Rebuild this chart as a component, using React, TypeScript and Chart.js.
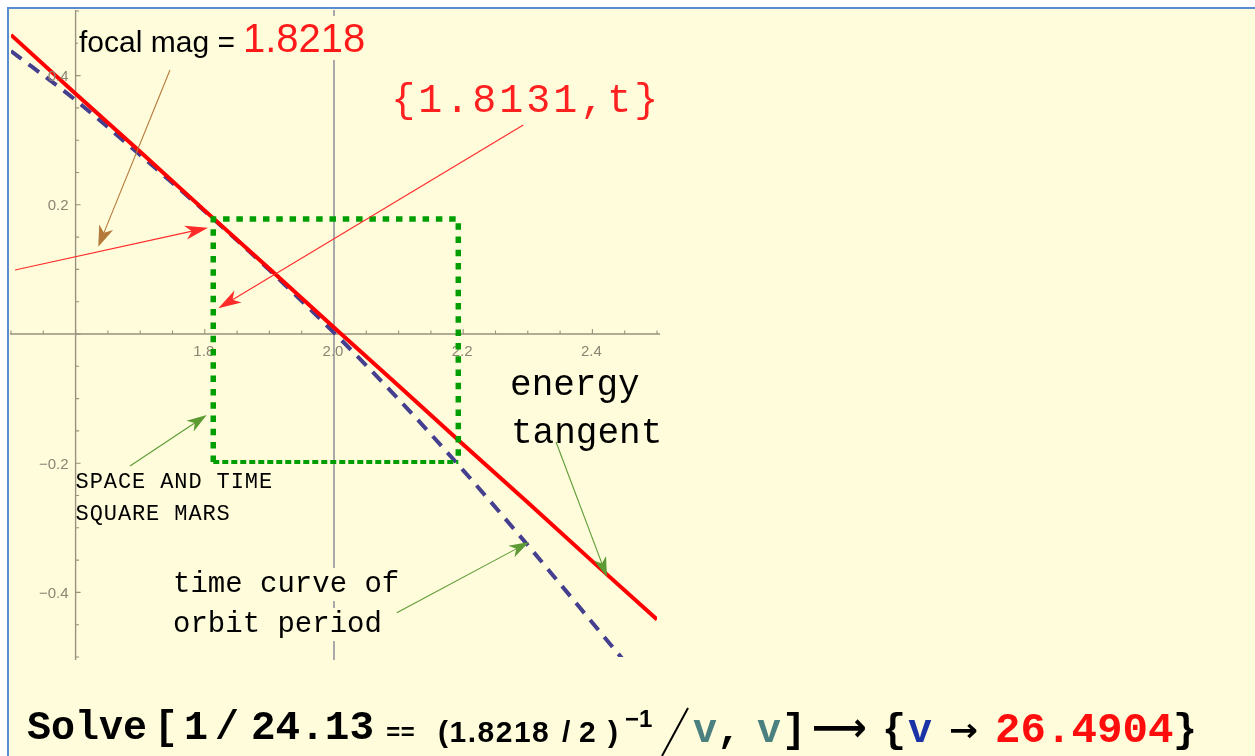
import React, { useEffect, useRef } from 'react';
import { Chart, registerables } from 'chart.js';

Chart.register(...registerables);

// ---- data ----
const X_RANGE = [1.5, 2.5];
const Y_RANGE = [-0.5, 0.5];

// energy tangent (red, solid)
const ENERGY_X = [1.5, 1.6, 1.7, 1.8, 1.9, 2.0, 2.1, 2.2, 2.3, 2.4, 2.5];
const ENERGY_Y = [0.463, 0.372, 0.282, 0.191, 0.101, 0.01, -0.08, -0.171, -0.261, -0.352, -0.442];

// time curve of orbit period (dashed)
const TIME_X = [1.5, 1.6, 1.7, 1.8, 1.9, 2.0, 2.1, 2.2, 2.3, 2.4, 2.45];
const TIME_Y = [0.438, 0.362, 0.277, 0.19, 0.099, 0.002, -0.101, -0.211, -0.327, -0.447, -0.507];

// space and time square (green dotted)
const SQUARE_X = [1.8131, 2.1924];
const SQUARE_Y = [0.178, -0.198];

// axes
const AXIS_ORIGIN_X = 1.6;
const AXIS_ORIGIN_Y = 0;
const GRID_X = 2.0;
const X_TICK_VALUES = [1.8, 2.0, 2.2, 2.4];
const X_TICK_LABELS = ['1.8', '2.0', '2.2', '2.4'];
const Y_TICK_VALUES = [0.4, 0.2, -0.2, -0.4];
const Y_TICK_LABELS = ['0.4', '0.2', '\u22120.2', '\u22120.4'];
const MINOR_STEP = 0.05;

// ---- annotations (in data coordinates) ----
const MONO = '"Liberation Mono", "DejaVu Sans Mono", monospace';
const SANS = '"Liberation Sans", Arial, sans-serif';

const TEXT_NOTES = [
  { text: 'focal mag =', x: 1.6053, y: 0.4365, size: 30, family: SANS, color: '#000000', spacing: 0, bg: true },
  { text: '1.8218', x: 1.859, y: 0.4365, size: 40, family: SANS, color: '#ff1a1a', spacing: 0, bg: true },
  { text: '{1.8131,t}', x: 2.0885, y: 0.3437, size: 40, family: MONO, color: '#ff2020', spacing: 3, bg: false },
  { text: 'energy', x: 2.2725, y: -0.0944, size: 36, family: MONO, color: '#000000', spacing: 0, bg: false },
  { text: 'tangent', x: 2.274, y: -0.1687, size: 36, family: MONO, color: '#000000', spacing: 0, bg: false },
  { text: 'SPACE AND TIME', x: 1.6, y: -0.2384, size: 22, family: MONO, color: '#000000', spacing: 0.9, bg: false },
  { text: 'SQUARE MARS', x: 1.6, y: -0.288, size: 22, family: MONO, color: '#000000', spacing: 0.9, bg: false },
  { text: 'time curve of', x: 1.7508, y: -0.3994, size: 29, family: MONO, color: '#000000', spacing: 0, bg: true },
  { text: 'orbit period', x: 1.7508, y: -0.4613, size: 29, family: MONO, color: '#000000', spacing: 0, bg: true },
];

const ARROWS = [
  { from: [1.7461, 0.4087], to: [1.6351, 0.1351], color: '#b57a3a', len: 21, half: 7.5 },
  { from: [1.5062, 0.099], to: [1.805, 0.1646], color: '#ff2a2a', len: 23, half: 7 },
  { from: [2.293, 0.3235], to: [1.8209, 0.0398], color: '#ff2a2a', len: 23, half: 7 },
  { from: [1.6842, -0.2043], to: [1.803, -0.1254], color: '#5c9a34', len: 20, half: 6.5 },
  { from: [2.3437, -0.1672], to: [2.4226, -0.3762], color: '#5c9a34', len: 20, half: 6.5 },
  { from: [2.0972, -0.4314], to: [2.3019, -0.322], color: '#5c9a34', len: 20, half: 6.5 },
];

const W = 1255;
const H = 756;
// index of the last plotted curve; tick labels are drawn after it (under the square)
const LABELS_AFTER_DATASET = 2;

function drawArrow(ctx: CanvasRenderingContext2D, x1: number, y1: number, x2: number, y2: number, color: string, len: number, half: number) {
  const a = Math.atan2(y2 - y1, x2 - x1);
  const c = Math.cos(a);
  const s = Math.sin(a);
  ctx.strokeStyle = color;
  ctx.fillStyle = color;
  ctx.lineWidth = 1.1;
  ctx.beginPath();
  ctx.moveTo(x1, y1);
  ctx.lineTo(x2 - len * 0.7 * c, y2 - len * 0.7 * s);
  ctx.stroke();
  ctx.beginPath();
  ctx.moveTo(x2, y2);
  ctx.lineTo(x2 - len * c + half * s, y2 - len * s - half * c);
  ctx.lineTo(x2 - len * 0.72 * c, y2 - len * 0.72 * s);
  ctx.lineTo(x2 - len * c - half * s, y2 - len * s + half * c);
  ctx.closePath();
  ctx.fill();
}

const mathPlugin = {
  id: 'mathAxes',
  beforeDatasetsDraw(chart: any) {
    const { ctx, chartArea: ca } = chart;
    const xs = chart.scales.x;
    const ys = chart.scales.y;
    const px = (v: number) => xs.getPixelForValue(v);
    const py = (v: number) => ys.getPixelForValue(v);
    ctx.save();
    // vertical grid line
    ctx.strokeStyle = '#a9a9a9';
    ctx.lineWidth = 2;
    ctx.beginPath();
    ctx.moveTo(px(GRID_X), ca.top - 1);
    ctx.lineTo(px(GRID_X), ca.bottom + 3);
    ctx.stroke();
    // axes
    const ox = px(AXIS_ORIGIN_X);
    const oy = py(AXIS_ORIGIN_Y);
    ctx.strokeStyle = '#9a917f';
    ctx.lineWidth = 1.4;
    ctx.beginPath();
    ctx.moveTo(ca.left - 1, oy);
    ctx.lineTo(ca.right + 3, oy);
    ctx.moveTo(ox, ca.top - 1);
    ctx.lineTo(ox, ca.bottom + 3);
    ctx.stroke();
    // ticks
    ctx.lineWidth = 1.1;
    ctx.beginPath();
    const nx = Math.round((X_RANGE[1] - X_RANGE[0]) / MINOR_STEP);
    for (let i = 0; i <= nx; i++) {
      const v = X_RANGE[0] + i * MINOR_STEP;
      const major = Math.abs(Math.round(v * 5) - v * 5) < 1e-6;
      const p = px(v);
      ctx.moveTo(p, oy);
      ctx.lineTo(p, oy - (major ? 5 : 3.5));
    }
    const ny = Math.round((Y_RANGE[1] - Y_RANGE[0]) / MINOR_STEP);
    for (let i = 0; i <= ny; i++) {
      const v = Y_RANGE[0] + i * MINOR_STEP;
      const major = Math.abs(Math.round(v * 5) - v * 5) < 1e-6;
      const p = py(v);
      ctx.moveTo(ox, p);
      ctx.lineTo(ox + (major ? 5 : 3.5), p);
    }
    ctx.stroke();

    // text notes: backgrounds first, then the text
    ctx.textAlign = 'left';
    ctx.textBaseline = 'alphabetic';
    for (const n of TEXT_NOTES) {
      if (!n.bg) continue;
      ctx.font = `${n.size}px ${n.family}`;
      (ctx as any).letterSpacing = `${n.spacing}px`;
      const m = ctx.measureText(n.text);
      const tx = px(n.x);
      const ty = py(n.y);
      ctx.fillStyle = '#fffcdb';
      ctx.fillRect(tx - 1, ty - m.fontBoundingBoxAscent, m.width + 4, m.fontBoundingBoxAscent + m.fontBoundingBoxDescent);
    }
    for (const n of TEXT_NOTES) {
      ctx.font = `${n.size}px ${n.family}`;
      (ctx as any).letterSpacing = `${n.spacing}px`;
      ctx.fillStyle = n.color;
      ctx.fillText(n.text, px(n.x), py(n.y));
    }
    (ctx as any).letterSpacing = '0px';
    ctx.restore();
  },
  afterDatasetDraw(chart: any, args: any) {
    if (args.index !== LABELS_AFTER_DATASET) return;
    const { ctx } = chart;
    const xs = chart.scales.x;
    const ys = chart.scales.y;
    const ox = xs.getPixelForValue(AXIS_ORIGIN_X);
    const oy = ys.getPixelForValue(AXIS_ORIGIN_Y);
    ctx.save();
    ctx.fillStyle = '#8c8474';
    ctx.font = '15px ' + SANS;
    ctx.textBaseline = 'alphabetic';
    ctx.textAlign = 'center';
    X_TICK_VALUES.forEach((v, i) => ctx.fillText(X_TICK_LABELS[i], xs.getPixelForValue(v) - 1, oy + 22));
    ctx.textAlign = 'right';
    Y_TICK_VALUES.forEach((v, i) => ctx.fillText(Y_TICK_LABELS[i], ox - 7, ys.getPixelForValue(v) + 5.5));
    ctx.restore();
  },
  afterDatasetsDraw(chart: any) {
    const { ctx } = chart;
    const xs = chart.scales.x;
    const ys = chart.scales.y;
    ctx.save();
    for (const a of ARROWS) {
      drawArrow(ctx, xs.getPixelForValue(a.from[0]), ys.getPixelForValue(a.from[1]),
        xs.getPixelForValue(a.to[0]), ys.getPixelForValue(a.to[1]), a.color, a.len, a.half);
    }
    ctx.restore();
  },
};

type Piece = { t: string; x: number; y: number; size: number; fam: string; color: string; ls?: number; len?: number };

const FORMULA: Piece[] = [
  { t: 'Solve', x: 27, y: 739, size: 40, fam: MONO, color: '#000' },
  { t: '[', x: 154, y: 739, size: 40, fam: MONO, color: '#000' },
  { t: '1', x: 184, y: 739, size: 40, fam: MONO, color: '#000' },
  { t: '/', x: 215, y: 739, size: 40, fam: MONO, color: '#000' },
  { t: '24.13', x: 251, y: 739, size: 41, fam: MONO, color: '#000' },
  { t: '==', x: 386, y: 740, size: 24, fam: MONO, color: '#000' },
  { t: '(1.8218', x: 438, y: 742, size: 30, fam: SANS, color: '#000', ls: 1.5 },
  { t: '/', x: 562, y: 742, size: 30, fam: SANS, color: '#000' },
  { t: '2', x: 579, y: 742, size: 30, fam: SANS, color: '#000' },
  { t: ')', x: 608, y: 742, size: 30, fam: SANS, color: '#000' },
  { t: '\u22121', x: 625, y: 727, size: 24, fam: SANS, color: '#000' },
  { t: 'v', x: 693, y: 742, size: 40, fam: MONO, color: '#4a8080' },
  { t: ',', x: 717, y: 742, size: 40, fam: MONO, color: '#000' },
  { t: 'v', x: 757, y: 742, size: 40, fam: MONO, color: '#4a8080' },
  { t: ']', x: 782, y: 742, size: 40, fam: MONO, color: '#000' },
  { t: '\u27F6', x: 812, y: 741, size: 40, fam: '"DejaVu Sans", sans-serif', color: '#000', len: 55 },
  { t: '{', x: 882, y: 742, size: 40, fam: MONO, color: '#000' },
  { t: 'v', x: 908, y: 742, size: 40, fam: MONO, color: '#1a33a6' },
  { t: '\u2192', x: 949, y: 741, size: 32, fam: '"DejaVu Sans", sans-serif', color: '#000', len: 29 },
  { t: '26.4904', x: 995, y: 742, size: 42.5, fam: MONO, color: '#ff0d0d' },
  { t: '}', x: 1173, y: 742, size: 40, fam: MONO, color: '#000' },
];

export default function App() {
  const ref = useRef<HTMLCanvasElement | null>(null);

  useEffect(() => {
    if (!ref.current) return;
    const energy = ENERGY_X.map((x, i) => ({ x, y: ENERGY_Y[i] }));
    const time = TIME_X.map((x, i) => ({ x, y: TIME_Y[i] }));
    const squareSides = [
      { x: SQUARE_X[0], y: SQUARE_Y[1] },
      { x: SQUARE_X[0], y: SQUARE_Y[0] },
      { x: SQUARE_X[1], y: SQUARE_Y[0] },
      { x: SQUARE_X[1], y: SQUARE_Y[1] },
    ];
    const squareBottom = [
      { x: SQUARE_X[0], y: SQUARE_Y[1] },
      { x: SQUARE_X[1], y: SQUARE_Y[1] },
    ];
    // datasets are painted from the last index to the first
    const chart = new Chart(ref.current, {
      type: 'line',
      data: {
        datasets: [
          { label: 'space and time square', data: squareSides, borderColor: '#009e00', borderWidth: 5.5, borderDash: [6.5, 6.8], pointRadius: 0, fill: false },
          { label: 'square bottom', data: squareBottom, borderColor: '#009e00', borderWidth: 4, borderDash: [6, 3], pointRadius: 0, fill: false },
          { label: 'energy tangent', data: energy, borderColor: '#ff0000', borderWidth: 4, pointRadius: 0, fill: false },
          { label: 'time curve of orbit period', data: time, borderColor: '#453f8f', borderWidth: 4, borderDash: [13, 9], pointRadius: 0, cubicInterpolationMode: 'monotone', fill: false },
        ],
      },
      options: {
        animation: false,
        responsive: false,
        devicePixelRatio: 1,
        layout: { padding: { left: 11, top: 11, right: W - 657, bottom: H - 657 } },
        scales: {
          x: { type: 'linear', min: X_RANGE[0], max: X_RANGE[1], display: false },
          y: { type: 'linear', min: Y_RANGE[0], max: Y_RANGE[1], display: false },
        },
        plugins: { legend: { display: false }, tooltip: { enabled: false } },
        elements: { point: { radius: 0 } },
      } as any,
      plugins: [mathPlugin],
    });
    return () => chart.destroy();
  }, []);

  return (
    <div style={{ position: 'fixed', left: 0, top: 0, width: W, height: H, background: '#ffffff', overflow: 'hidden' }}>
      <div style={{ position: 'absolute', left: 7, top: 7, width: W - 7, height: H - 7, boxSizing: 'border-box', borderTop: '2px solid #5b8bd3', borderLeft: '2px solid #5b8bd3', background: '#fffcdb' }} />
      <canvas ref={ref} width={W} height={H} style={{ position: 'absolute', left: 0, top: 0, width: W, height: H }} />
      <svg width={W} height={H} style={{ position: 'absolute', left: 0, top: 0, pointerEvents: 'none' }}>
        {FORMULA.map((p, i) => (
          <text key={i} x={p.x} y={p.y} fill={p.color} fontFamily={p.fam} fontSize={p.size} fontWeight={700}
            letterSpacing={p.ls ? p.ls : undefined}
            textLength={p.len ? p.len : undefined} lengthAdjust={p.len ? 'spacingAndGlyphs' : undefined}>{p.t}</text>
        ))}
        <line x1={662} y1={756} x2={688} y2={708} stroke="#000" strokeWidth={2} />
      </svg>
    </div>
  );
}
